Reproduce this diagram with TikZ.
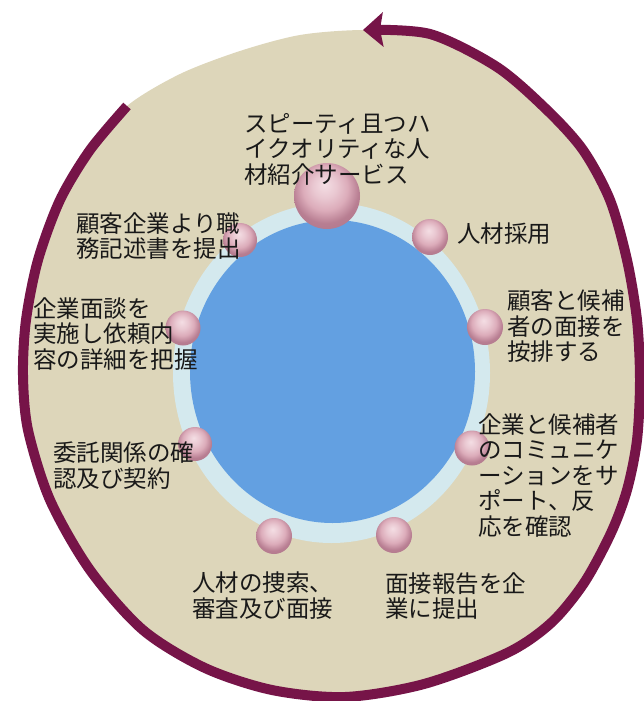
\documentclass[tikz,border=0pt]{standalone}
\usepackage{fontspec}
\newfontfamily\jp{Noto Sans CJK JP}
\usetikzlibrary{arrows.meta}
\definecolor{beigec}{RGB}{221,214,186}
\definecolor{arcc}{RGB}{118,20,72}
\definecolor{bluec}{RGB}{99,160,225}
\definecolor{ringc}{RGB}{212,233,238}
\definecolor{pkA}{RGB}{244,222,228}
\definecolor{pkB}{RGB}{220,172,186}
\definecolor{pkC}{RGB}{184,126,146}
\definecolor{pkD}{RGB}{160,104,124}
\pgfdeclareradialshading{pinkball}{\pgfqpoint{-2bp}{9bp}}{color(0bp)=(pkA); color(9bp)=(pkA!55!pkB); color(17bp)=(pkB); color(25bp)=(pkC); color(50bp)=(pkD)}
\tikzset{
  lbl/.style={font=\jp\fontsize{23.5pt}{25.5pt}\selectfont, align=left, anchor=north west, inner sep=0pt, text=black!90},
  pball/.style={circle, inner sep=0pt, draw=none, shading=pinkball},
  ringarc/.style={draw=arcc, line width=10pt, -{Stealth[length=20pt,width=34pt,inset=3pt]}}
}
\begin{document}
\begin{tikzpicture}[x=1pt,y=-1pt]
\useasboundingbox (0,0) rectangle (644,701);
\fill[white] (0,0) rectangle (644,701);
% beige disc
\fill[beigec] plot[smooth cycle] coordinates {
 (127,106) (90,150) (60,200) (38,260) (26,320) (23,375) (28,430) (50,500) (90,570) (143,630) (205,668) (272,690) (345,697) (424,684) (507,653) (551,623) (584,583) (611,533) (627,490) (637,440) (640,380) (637,320) (627,260) (610,200) (583,150) (547,110) (497,67) (430,34) (363,30) (300,35) (240,51) (180,74)};
% maroon arrow arc
\draw[ringarc] plot[smooth] coordinates {
 (127,106) (90,150) (60,200) (38,260) (26,320) (23,375) (28,430) (50,500) (90,570) (143,630) (205,668) (272,690) (345,697) (424,684) (507,653) (551,623) (584,583) (611,533) (627,490) (637,440) (640,380) (637,320) (627,260) (610,200) (583,150) (547,110) (497,67) (430,34) (363,30)};
% ring and blue centre
\fill[ringc] (331.5,373) ellipse[x radius=158.5, y radius=170];
\fill[bluec] (332.5,371.5) ellipse[x radius=142.5, y radius=151.5];
% balls
\node[pball, minimum size=66pt] (b1) at (327,196) {};
\node[pball, minimum size=36pt] (b2) at (430,237) {};
\node[pball, minimum size=36pt] (b3) at (485,327) {};
\node[pball, minimum size=35pt] (b4) at (472,448) {};
\node[pball, minimum size=36pt] (b5) at (394,535) {};
\node[pball, minimum size=36pt] (b6) at (274,536) {};
\node[pball, minimum size=34pt] (b7) at (195,444) {};
\node[pball, minimum size=35pt] (b8) at (183,328) {};
\node[pball, minimum size=34pt] (b9) at (240,240) {};
% labels
\node[lbl] (t1) at (244,113) {スピーティ且つハ\\イクオリティな人\\材紹介サービス};
\node[lbl] (t2) at (457,223) {人材採用};
\node[lbl] (t3) at (507,290) {顧客と候補\\者の面接を\\按排する};
\node[lbl] (t4) at (478,413) {企業と候補者\\のコミュニケ\\ーションをサ\\ポート、反\\応を確認};
\node[lbl] (t5) at (385,572) {面接報告を企\\業に提出};
\node[lbl] (t6) at (192,572) {人材の捜索、\\審査及び面接};
\node[lbl] (t7) at (53,442) {委託関係の確\\認及び契約};
\node[lbl] (t8) at (33,297) {企業面談を\\実施し依頼内\\容の詳細を把握};
\node[lbl] (t9) at (76,212) {顧客企業より職\\務記述書を提出};
\end{tikzpicture}
\end{document}
